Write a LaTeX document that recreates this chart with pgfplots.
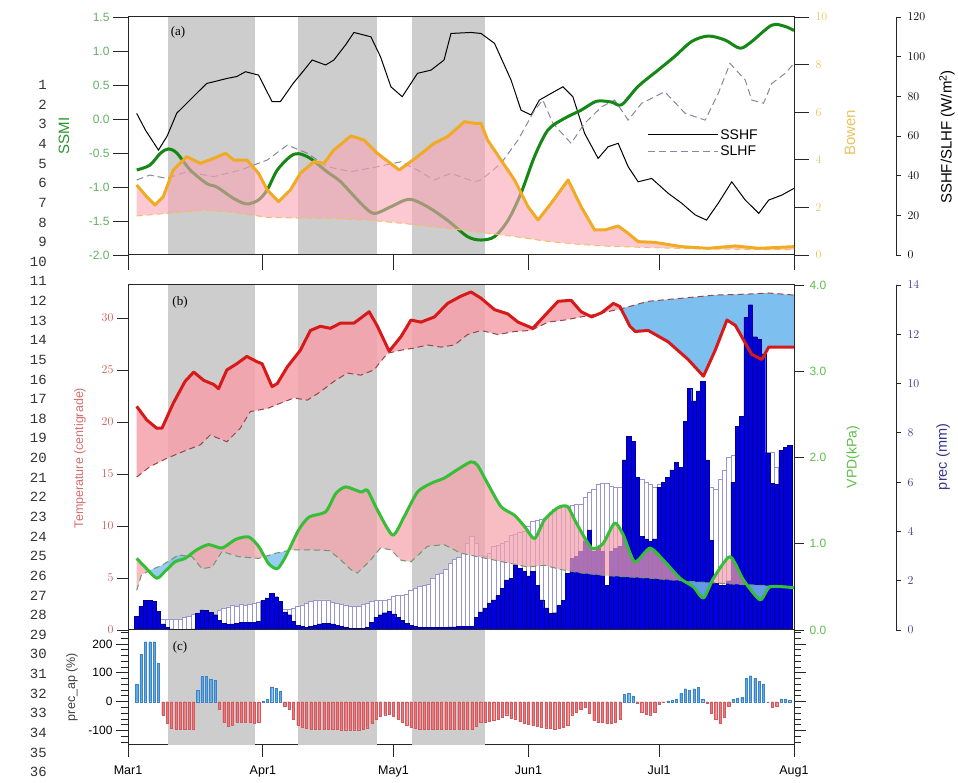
\documentclass[border=0pt]{standalone}
\usepackage{pgfplots}
\usepackage{pgfplotstable}
\pgfplotsset{compat=1.18}
\usepackage{fontspec}
\setmainfont{Liberation Sans}
\newfontfamily\seriffont{Liberation Serif}
\newfontfamily\monofont{Liberation Mono}

\definecolor{bandgray}{RGB}{205,205,205}
\definecolor{ssmiline}{RGB}{20,135,20}
\definecolor{ssmitick}{RGB}{100,175,100}
\definecolor{ssmilab}{RGB}{40,150,40}
\definecolor{bowline}{RGB}{240,170,35}
\definecolor{bowclim}{RGB}{240,190,100}
\definecolor{bowtick}{RGB}{232,196,95}
\definecolor{slhfgray}{RGB}{135,135,160}
\definecolor{pinkfill}{RGB}{250,165,180}
\definecolor{pinkT}{RGB}{245,160,170}
\definecolor{tline}{RGB}{215,25,25}
\definecolor{tclim}{RGB}{150,70,70}
\definecolor{ttick}{RGB}{205,85,85}
\definecolor{tlab}{RGB}{215,110,110}
\definecolor{vline}{RGB}{55,190,55}
\definecolor{vclim}{RGB}{110,150,110}
\definecolor{vtick}{RGB}{95,190,75}
\definecolor{ltblue}{RGB}{125,192,240}
\definecolor{barblue}{RGB}{0,0,225}
\definecolor{baredge}{RGB}{0,0,140}
\definecolor{climedge}{RGB}{150,150,210}
\definecolor{precnavy}{RGB}{55,55,145}
\definecolor{cblue}{RGB}{95,170,225}
\definecolor{cbluee}{RGB}{60,130,200}
\definecolor{cred}{RGB}{240,120,125}
\definecolor{crede}{RGB}{210,90,95}

\pgfplotstableread{
d clim act ap
2 0.40 0.55 61
3 0.40 0.97 164
4 0.40 1.19 208
5 0.40 1.19 208
6 0.40 1.15 208
7 0.40 0.75 133
8 0.42 0.25 -46
9 0.43 0.10 -75
10 0.43 0.05 -92
11 0.44 0.04 -96
12 0.45 0.04 -96
13 0.50 0.04 -96
14 0.55 0.04 -96
15 0.62 0.05 -96
16 0.45 0.68 40
17 0.45 0.82 87
18 0.45 0.80 87
19 0.45 0.72 77
20 0.45 0.62 75
21 0.80 0.40 -25
22 0.88 0.28 -70
23 0.94 0.22 -84
24 1.00 0.25 -80
25 0.97 0.28 -72
26 1.05 0.30 -72
27 1.00 0.30 -72
28 1.05 0.30 -72
29 1.08 0.30 -75
30 1.12 0.35 -72
31 1.15 1.20 3
32 1.15 1.30 8
33 1.00 1.49 52
34 0.92 1.35 46
35 0.85 1.15 37
36 0.85 0.74 -15
37 0.83 0.62 -25
38 0.88 0.36 -60
39 0.95 0.20 -80
40 1.02 0.14 -88
41 1.08 0.12 -92
42 1.15 0.15 -95
43 1.20 0.20 -95
44 1.22 0.25 -95
45 1.22 0.28 -95
46 1.22 0.28 -95
47 1.12 0.25 -95
48 1.08 0.20 -95
49 1.05 0.14 -97
50 1.02 0.10 -97
51 0.95 0.07 -97
52 0.95 0.06 -97
53 0.97 0.06 -97
54 1.05 0.07 -95
55 1.08 0.12 -90
56 1.15 0.30 -75
57 1.20 0.50 -60
58 1.22 0.62 -50
59 1.22 0.70 -45
60 1.25 0.75 -42
61 1.35 0.65 -50
62 1.40 0.52 -60
63 1.40 0.40 -70
64 1.45 0.28 -80
65 1.60 0.18 -88
66 1.70 0.14 -92
67 1.76 0.12 -95
68 1.80 0.12 -95
69 1.85 0.12 -95
70 2.10 0.12 -95
71 2.25 0.12 -95
72 2.30 0.12 -95
73 2.45 0.12 -95
74 2.70 0.13 -95
75 2.85 0.13 -95
76 2.95 0.14 -95
77 3.10 0.14 -95
78 3.50 0.15 -95
79 3.80 0.16 -95
80 3.50 0.50 -85
81 3.05 0.74 -72
82 3.00 0.90 -70
83 3.10 1.10 -68
84 3.40 1.22 -65
85 3.45 1.40 -60
86 3.50 1.70 -55
87 3.60 2.03 -45
88 3.85 2.10 -58
89 3.90 2.64 -62
90 3.95 2.50 -68
91 4.00 2.37 -75
92 4.20 2.20 -78
93 4.40 2.37 -82
94 4.45 1.80 -85
95 4.50 1.22 -88
96 4.55 0.90 -90
97 4.70 0.68 -93
98 4.90 0.70 -95
99 4.95 1.00 -92
100 5.00 1.20 -88
101 5.00 2.30 -80
102 5.05 2.90 -45
103 5.10 3.00 -35
104 5.10 3.20 -25
105 5.40 3.60 -20
106 5.60 4.06 -40
107 5.70 3.20 -65
108 5.90 3.30 -70
109 5.95 3.20 -72
110 5.95 1.80 -75
111 5.85 3.20 -75
112 5.80 3.30 -70
113 5.80 3.40 -60
114 5.80 6.90 25
115 5.80 7.85 30
116 5.90 7.65 20
117 6.00 6.20 -5
118 6.10 3.80 -35
119 6.00 3.70 -42
120 5.90 3.60 -45
121 5.80 3.70 -35
122 5.90 5.80 -10
123 6.00 6.00 -3
124 6.10 6.20 3
125 6.20 6.50 5
126 6.30 6.80 8
127 6.30 6.60 30
128 6.30 8.46 45
129 6.30 9.80 40
130 6.20 9.30 45
131 6.10 9.70 50
132 6.00 10.10 10
133 5.90 6.90 -5
134 5.80 3.65 -40
135 5.70 1.90 -60
136 6.10 1.80 -75
137 6.50 1.80 -55
138 7.00 2.00 -15
139 7.10 6.00 8
140 7.10 8.25 12
141 7.10 8.66 15
142 7.10 12.70 81
143 7.10 13.20 90
144 7.10 11.90 80
145 7.10 11.80 70
146 7.10 11.20 62
147 7.20 7.17 0
148 7.20 5.95 -20
149 6.60 5.90 -15
150 6.30 7.30 10
151 6.50 7.40 10
152 6.80 7.50 5
}\bars

\newcommand{\bands}[2]{%
\addplot[fill=bandgray, draw=none, forget plot] coordinates {(9.2,#1) (29.1,#1) (29.1,#2) (9.2,#2)};
\addplot[fill=bandgray, draw=none, forget plot] coordinates {(39.1,#1) (57.2,#1) (57.2,#2) (39.1,#2)};
\addplot[fill=bandgray, draw=none, forget plot] coordinates {(65.2,#1) (82.0,#1) (82.0,#2) (65.2,#2)};
}

\begin{document}
\begin{tikzpicture}
\useasboundingbox (0pt,0pt) rectangle (958pt,783pt);
\pgfplotsset{
 every axis/.append style={scale only axis, width=666pt, xmin=0, xmax=153,
   axis line style={black!85, line width=1pt},
   tick style={black!85, line width=0.9pt},
   tick label style={font=\fontsize{12}{12}\selectfont},
   tick align=outside},
}

% ================= Panel (a) =================
\begin{axis}[at={(128pt,528pt)}, anchor=south west, height=238pt, ymin=0, ymax=120, hide axis]
\bands{0}{120}
\addplot[black, line width=1pt, forget plot] coordinates {(2,71.4) (4,63) (7,52.9) (9,60) (11.2,71.5) (13.5,76.5) (16,82) (18.1,86.5) (20,87.5) (22.7,89) (25,90) (27,92.4) (30,90.7) (33.1,77.3) (35,77.3) (38,86.7) (40,92) (42.3,98.3) (45.4,95.8) (47.3,98.3) (50,106) (51.9,112.2) (55.8,110) (58,100) (60.4,84.8) (63,79.8) (66.5,91.6) (69.6,93.2) (72.6,98.3) (74.2,111.7) (78.8,112.2) (81.1,111.7) (84.2,106.7) (88,88.2) (90.3,73) (92.6,70.6) (94.5,78.1) (96.5,80.6) (99.9,84.8) (102.2,79.8) (104.9,61.3) (108,48.7) (110.3,54.6) (112.6,56.3) (114.9,44.5) (117.2,36.9) (120.3,38.6) (124.1,31.1) (127.2,26.1) (130.3,20.2) (132.9,17.6) (135.6,26.1) (138.7,36.9) (141.8,27.7) (144.9,21) (147.2,27.7) (150.2,30.2) (153,33.6)};
\addplot[slhfgray, line width=1pt, dash pattern=on 7pt off 4pt, forget plot] coordinates {(2,37.8) (5,40.3) (8.9,38.6) (13.5,42) (19.7,39.5) (25.8,42.8) (32,47.9) (36.6,55.4) (41.2,51.3) (45.8,44.5) (51.2,42) (57.3,44.5) (62.7,47) (66.5,42.8) (70.3,37.8) (74.2,41.2) (79.6,36.9) (81.1,37.8) (85.7,46.2) (89.6,58) (93.4,73) (95.3,78.1) (97.6,66.4) (101.8,56.3) (104.9,66.4) (108.8,74.7) (111.8,78.1) (114.9,68) (118,76.5) (123.3,82.3) (128,71.4) (132.6,68) (135.6,81.5) (138.3,96.6) (141.8,88.2) (143.3,78.1) (146,76.5) (147.9,86.5) (151,91.6) (153,96.6)};
\end{axis}

\begin{axis}[at={(128pt,528pt)}, anchor=south west, height=238pt, ymin=-2, ymax=1.5,
  major tick length=15pt, ytick pos=left, xtick pos=lower,
  xtick={0,31,61,92,122,153}, xticklabels={},
  ytick={-2,-1.5,-1,-0.5,0,0.5,1,1.5}, yticklabels={-2.0,-1.5,-1.0,-0.5,0.0,0.5,1.0,1.5},
  yticklabel style={text=ssmitick},
  legend style={at={(axis description cs:0.775,0.47)}, anchor=west, draw=none, fill=none,
     font=\fontsize{14}{14}\selectfont, row sep=1pt, cells={anchor=west}},
  legend image code/.code={\draw[#1] (0pt,0pt) -- (70pt,0pt);}]
\addplot[ssmiline, line width=3pt, smooth, line join=round, forget plot] coordinates {(2,-0.75) (5,-0.68) (7.5,-0.5) (9.3,-0.44) (11.2,-0.5) (14.3,-0.75) (18.1,-0.95) (20.4,-1.0) (24.3,-1.17) (27.3,-1.25) (30,-1.19) (32,-1.04) (34.3,-0.75) (37.3,-0.55) (39.2,-0.51) (41.9,-0.58) (45.8,-0.78) (48.8,-0.92) (53.5,-1.24) (56.5,-1.39) (60.4,-1.29) (64.6,-1.18) (68.8,-1.29) (73.4,-1.49) (78,-1.73) (81.1,-1.78) (84.2,-1.73) (87.3,-1.49) (90.3,-1.09) (93.4,-0.55) (96.5,-0.16) (100.3,0.01) (104.1,0.13) (107.6,0.26) (111,0.25) (113.4,0.21) (117.2,0.48) (121.8,0.72) (125.6,0.92) (129.5,1.14) (133.3,1.22) (137.2,1.16) (140.6,1.04) (143.3,1.14) (147.9,1.38) (151,1.36) (153,1.3)};
\addlegendimage{black, line width=1pt}
\addlegendentry{SSHF}
\addlegendimage{slhfgray, line width=1pt, dash pattern=on 7pt off 4pt}
\addlegendentry{SLHF}
\end{axis}

\begin{axis}[at={(128pt,528pt)}, anchor=south west, height=238pt, ymin=0, ymax=10,
  major tick length=15pt, ytick pos=right, xtick=\empty,
  ytick={0,2,4,6,8,10}, yticklabel style={text=bowtick, xshift=3pt}]
% pink area between Bowen ratio and its climatology
\addplot[fill=pinkfill, draw=none, opacity=0.6] coordinates {(2,2.94) (4.3,2.45) (6.2,2.1) (8.1,2.45) (10.4,3.57) (13.5,4.13) (16.6,3.85) (19.7,4.06) (22.4,4.27) (24.3,3.99) (27.3,3.99) (30,3.43) (32,2.73) (34.6,2.24) (37.3,2.73) (39.6,3.43) (42.7,3.92) (45,3.85) (47.3,4.41) (51.2,5.0) (54.2,4.83) (57.3,4.27) (62.3,3.57) (66.5,4.13) (70.3,4.69) (73.4,4.97) (77.3,5.6) (79.6,5.53) (81.1,5.53) (82.6,4.83) (85.7,3.99) (88.8,3.15) (91.9,2.03) (94.2,1.47) (97.2,2.17) (101.1,3.15) (104.1,2.03) (107.2,1.05) (109.5,1.05) (112.6,1.22) (114.9,0.91) (117.2,0.56) (121,0.53) (127.2,0.35) (133.3,0.28) (139.5,0.38) (144.9,0.28) (153,0.35)
 (153,0.22) (140,0.24) (130,0.26) (120,0.31) (111,0.36) (104,0.44) (96,0.58) (89,0.77) (81,0.95) (78,1.02) (70,1.19) (63,1.33) (55,1.47) (47,1.54) (40,1.55) (32,1.58) (24,1.8) (18,1.89) (9,1.75) (2,1.64)};
\addplot[bowclim, line width=1pt, dash pattern=on 6pt off 4pt] coordinates {(2,1.64) (9,1.75) (18,1.89) (24,1.8) (32,1.58) (40,1.55) (47,1.54) (55,1.47) (63,1.33) (70,1.19) (78,1.02) (81,0.95) (89,0.77) (96,0.58) (104,0.44) (111,0.36) (120,0.31) (130,0.26) (140,0.24) (153,0.22)};
\addplot[bowline, line width=3pt, line join=round] coordinates {(2,2.94) (4.3,2.45) (6.2,2.1) (8.1,2.45) (10.4,3.57) (13.5,4.13) (16.6,3.85) (19.7,4.06) (22.4,4.27) (24.3,3.99) (27.3,3.99) (30,3.43) (32,2.73) (34.6,2.24) (37.3,2.73) (39.6,3.43) (42.7,3.92) (45,3.85) (47.3,4.41) (51.2,5.0) (54.2,4.83) (57.3,4.27) (62.3,3.57) (66.5,4.13) (70.3,4.69) (73.4,4.97) (77.3,5.6) (79.6,5.53) (81.1,5.53) (82.6,4.83) (85.7,3.99) (88.8,3.15) (91.9,2.03) (94.2,1.47) (97.2,2.17) (101.1,3.15) (104.1,2.03) (107.2,1.05) (109.5,1.05) (112.6,1.22) (114.9,0.91) (117.2,0.56) (121,0.53) (127.2,0.35) (133.3,0.28) (139.5,0.38) (144.9,0.28) (153,0.35)};
\end{axis}

\begin{axis}[at={(886pt,528pt)}, anchor=south west, width=10pt, height=238pt, xmin=0, xmax=1, ymin=0, ymax=120,
  hide x axis, axis y line*=right, y axis line style={-}, major tick length=5pt,
  ytick={0,20,40,60,80,100,120}, yticklabel style={xshift=3pt}]
\addplot[draw=none] coordinates {(0,0) (1,120)};
\end{axis}

% ================= Panel (b) =================
\begin{axis}[at={(128pt,153pt)}, anchor=south west, height=345pt, ymin=0, ymax=14, hide axis]
\bands{0}{14}
\end{axis}

\begin{axis}[at={(128pt,153pt)}, anchor=south west, height=345pt, ymin=0, ymax=33.17, hide axis]
% temperature above its climatology (pink)
\addplot[fill=pinkT, draw=none, opacity=0.85] coordinates {(2,21.5) (4.3,20.2) (6.6,19.4) (7.8,19.4) (10.4,21.8) (13.1,23.9) (15.1,24.8) (17.4,24.0) (19.7,23.6) (20.8,23.2) (22.7,25.0) (25,25.6) (27.3,26.3) (29.6,25.8) (30.8,25.6) (33.1,23.4) (34.3,23.7) (36.6,25.3) (39.6,26.9) (41.9,28.8) (44.2,29.2) (46.5,29.0) (48.8,29.5) (51.9,29.5) (53.5,30.0) (55.4,30.6) (57.3,29.2) (60,26.8) (62.7,28.2) (65,29.8) (67.3,29.6) (70.4,30.1) (73.4,31.4) (76.5,32.1) (78.8,32.5) (81.1,31.9) (84.2,30.8) (87.2,30.4) (89.6,29.6) (93,29.0) (95,29.9) (98.8,31.6) (101.8,31.7) (104.1,30.6) (106.5,30.1) (108.8,30.5) (111.5,31.4) (113,31.1) (113.25,30.89)
 (108,30.4) (104.1,30.1) (100.3,29.8) (96.5,29.6) (92.6,28.8) (88.8,28.7) (85,28.4) (81.1,28.8) (78,28.4) (75,27.4) (71.9,27.2) (68.8,27.4) (65.7,27.1) (62.7,26.9) (59.6,26.6) (56.5,25.0) (53.5,24.5) (50.4,24.7) (47.3,23.9) (44.2,22.9) (41.2,22.1) (38.1,22.3) (35,21.8) (32,21.3) (28.1,21.0) (25.8,19.4) (22.7,18.1) (18.9,18.75) (16.6,17.8) (13.5,17.3) (8.9,16.5) (5,15.7) (2,14.7)};
% temperature below its climatology (light blue)
\addplot[fill=ltblue, draw=none] coordinates {(113.25,30.89) (115.3,29.2) (116.5,28.7) (119.5,28.8) (124.1,27.7) (128.7,26.0) (132.2,24.4) (134.9,26.9) (137.6,29.8) (139.5,29.3) (141.8,27.6) (143.3,26.5) (145.6,26.0) (147.2,27.2) (153,27.2)
 (153,32.2) (147.2,32.4) (142.6,32.3) (134.9,32.2) (127.2,31.9) (119.5,31.6)};
\end{axis}

\begin{axis}[at={(128pt,153pt)}, anchor=south west, height=345pt, ymin=0, ymax=14, hide axis]
\addplot[ybar, bar width=1, bar shift=0pt, fill=white, draw=climedge, line width=0.6pt] table[x=d, y=clim] {\bars};
\addplot[ybar, bar width=1, bar shift=0pt, fill=barblue, draw=baredge, line width=0.4pt] table[x=d, y=act] {\bars};
\end{axis}

\begin{axis}[at={(128pt,153pt)}, anchor=south west, height=345pt, ymin=0, ymax=4,
  major tick length=10pt, ytick pos=right, xtick=\empty,
  ytick={0,1,2,3,4}, yticklabels={0.0,1.0,2.0,3.0,4.0}, yticklabel style={text=vtick, xshift=2pt}]
% VPD above climatology: pink; below: light blue
\addplot[fill=pinkT, draw=none, opacity=0.7] coordinates {(2,0.83) (3.9,0.73) (4.8,0.686) (3.1,0.64) (2,0.46)};
\addplot[fill=ltblue, draw=none, opacity=0.8] coordinates {(4.8,0.686) (6.6,0.6) (8.5,0.68) (10.8,0.79) (13.1,0.83) (13.8,0.856) (11.6,0.87) (7.8,0.75) (5.4,0.7)};
\addplot[fill=pinkT, draw=none, opacity=0.7] coordinates {(13.8,0.856) (15.8,0.93) (18.5,0.99) (21.6,0.95) (24.7,1.05) (27.7,1.08) (30,0.97) (31.38,0.85) (30,0.83) (25.4,0.85) (21.6,0.91) (19.3,0.73) (17,0.71) (14.7,0.85)};
\addplot[fill=ltblue, draw=none, opacity=0.8] coordinates {(31.38,0.85) (32.3,0.77) (34.3,0.71) (36.2,0.85) (36.9,0.921) (33.9,0.89)};
\addplot[fill=pinkT, draw=none, opacity=0.7] coordinates {(36.9,0.921) (39.2,1.16) (41.6,1.31) (45.4,1.37) (47.7,1.58) (50,1.66) (53.5,1.6) (55,1.62) (57.3,1.39) (60.8,1.1) (63.4,1.31) (66.5,1.6) (69.6,1.7) (72.6,1.76) (75.7,1.86) (78.8,1.95) (80.3,1.91) (82.6,1.7) (85.7,1.43) (88.8,1.33) (91.1,1.2) (93.4,1.06) (95.7,1.28) (98.8,1.42) (101,1.43) (103,1.24) (106.5,0.95) (109.1,1.0) (111.8,1.24) (113.8,1.1) (116.4,0.79) (119.9,0.95) (123,0.81) (126.8,0.6) (127.8,0.568)
 (120,0.6) (110,0.63) (104.2,0.66) (99.5,0.7) (95.7,0.75) (91.9,0.73) (88,0.77) (84.2,0.81) (80.3,0.85) (76.5,0.89) (72.6,0.99) (68.8,0.97) (65,0.79) (62.7,0.81) (60.4,0.93) (58,0.95) (55.7,0.81) (52.7,0.66) (51.2,0.7) (48.5,0.83) (46.2,0.92) (41.6,0.93) (37.7,0.93)};
\addplot[fill=ltblue, draw=none, opacity=0.8] coordinates {(127.8,0.568) (129.9,0.5) (132.2,0.37) (134,0.549) (130,0.56)};
\addplot[fill=pinkT, draw=none, opacity=0.7] coordinates {(134,0.549) (134.5,0.6) (138.3,0.85) (141.4,0.58) (142.3,0.525) (140,0.53)};
\addplot[fill=ltblue, draw=none, opacity=0.8] coordinates {(142.3,0.525) (145.2,0.35) (147.5,0.5) (153,0.49) (153,0.5)};
\addplot[vclim, line width=1pt, dash pattern=on 6pt off 4pt] coordinates {(2,0.46) (3.1,0.64) (5.4,0.7) (7.8,0.75) (11.6,0.87) (14.7,0.85) (17,0.71) (19.3,0.73) (21.6,0.91) (25.4,0.85) (30,0.83) (33.9,0.89) (37.7,0.93) (41.6,0.93) (46.2,0.92) (48.5,0.83) (51.2,0.7) (52.7,0.66) (55.7,0.81) (58,0.95) (60.4,0.93) (62.7,0.81) (65,0.79) (68.8,0.97) (72.6,0.99) (76.5,0.89) (80.3,0.85) (84.2,0.81) (88,0.77) (91.9,0.73) (95.7,0.75) (99.5,0.7) (104.2,0.66) (110,0.63) (120,0.6) (130,0.56) (140,0.53) (153,0.5)};
\addplot[vline, line width=3pt, line join=round, smooth, tension=0.4] coordinates {(2,0.83) (3.9,0.73) (6.6,0.6) (8.5,0.68) (10.8,0.79) (13.1,0.83) (15.8,0.93) (18.5,0.99) (21.6,0.95) (24.7,1.05) (27.7,1.08) (30,0.97) (32.3,0.77) (34.3,0.71) (36.2,0.85) (39.2,1.16) (41.6,1.31) (45.4,1.37) (47.7,1.58) (50,1.66) (53.5,1.6) (55,1.62) (57.3,1.39) (60.8,1.1) (63.4,1.31) (66.5,1.6) (69.6,1.7) (72.6,1.76) (75.7,1.86) (78.8,1.95) (80.3,1.91) (82.6,1.7) (85.7,1.43) (88.8,1.33) (91.1,1.2) (93.4,1.06) (95.7,1.28) (98.8,1.42) (101,1.43) (103,1.24) (106.5,0.95) (109.1,1.0) (111.8,1.24) (113.8,1.1) (116.4,0.79) (119.9,0.95) (123,0.81) (126.8,0.6) (129.9,0.5) (132.2,0.37) (134.5,0.6) (138.3,0.85) (141.4,0.58) (145.2,0.35) (147.5,0.5) (153,0.49)};
\end{axis}

\begin{axis}[at={(128pt,153pt)}, anchor=south west, height=345pt, ymin=0, ymax=33.17,
  major tick length=11pt, ytick pos=left, xtick=\empty,
  ytick={0,5,10,15,20,25,30}, yticklabel style={text=ttick}]
\addplot[tclim, line width=1pt, dash pattern=on 6pt off 4pt] coordinates {(2,14.7) (5,15.7) (8.9,16.5) (13.5,17.3) (16.6,17.8) (18.9,18.75) (22.7,18.1) (25.8,19.4) (28.1,21.0) (32,21.3) (35,21.8) (38.1,22.3) (41.2,22.1) (44.2,22.9) (47.3,23.9) (50.4,24.7) (53.5,24.5) (56.5,25.0) (59.6,26.6) (62.7,26.9) (65.7,27.1) (68.8,27.4) (71.9,27.2) (75,27.4) (78,28.4) (81.1,28.8) (85,28.4) (88.8,28.7) (92.6,28.8) (96.5,29.6) (100.3,29.8) (104.1,30.1) (108,30.4) (113.4,30.9) (119.5,31.6) (127.2,31.9) (134.9,32.2) (142.6,32.3) (147.2,32.4) (153,32.2)};
\addplot[tline, line width=3pt, line join=round] coordinates {(2,21.5) (4.3,20.2) (6.6,19.4) (7.8,19.4) (10.4,21.8) (13.1,23.9) (15.1,24.8) (17.4,24.0) (19.7,23.6) (20.8,23.2) (22.7,25.0) (25,25.6) (27.3,26.3) (29.6,25.8) (30.8,25.6) (33.1,23.4) (34.3,23.7) (36.6,25.3) (39.6,26.9) (41.9,28.8) (44.2,29.2) (46.5,29.0) (48.8,29.5) (51.9,29.5) (53.5,30.0) (55.4,30.6) (57.3,29.2) (60,26.8) (62.7,28.2) (65,29.8) (67.3,29.6) (70.4,30.1) (73.4,31.4) (76.5,32.1) (78.8,32.5) (81.1,31.9) (84.2,30.8) (87.2,30.4) (89.6,29.6) (93,29.0) (95,29.9) (98.8,31.6) (101.8,31.7) (104.1,30.6) (106.5,30.1) (108.8,30.5) (111.5,31.4) (113,31.1) (115.3,29.2) (116.5,28.7) (119.5,28.8) (124.1,27.7) (128.7,26.0) (132.2,24.4) (134.9,26.9) (137.6,29.8) (139.5,29.3) (141.8,27.6) (143.3,26.5) (145.6,26.0) (147.2,27.2) (153,27.2)};
\end{axis}

\begin{axis}[at={(886pt,153pt)}, anchor=south west, width=10pt, height=345pt, xmin=0, xmax=1, ymin=0, ymax=14,
  hide x axis, axis y line*=right, y axis line style={-}, major tick length=5pt,
  ytick={0,2,4,6,8,10,12,14}, yticklabel style={text=precnavy, xshift=3pt}]
\addplot[draw=none] coordinates {(0,0) (1,14)};
\end{axis}

% ================= Panel (c) =================
\begin{axis}[at={(128pt,38pt)}, anchor=south west, height=115pt, ymin=-150, ymax=248.5,
  major tick length=12pt, minor tick length=7pt,
  ytick={-100,0,100,200}, yticklabels={-100,0,100,200},
  minor ytick={-140,-120,-80,-60,-40,-20,20,40,60,80,120,140,160,180,220,240},
  ytick pos=both, yticklabel pos=left, xtick pos=lower,
  xtick={0,31,61,92,122,153}, xticklabels={Mar1,Apr1,May1,Jun1,Jul1,Aug1},
  xticklabel style={font=\fontsize{12.5}{12.5}\selectfont, yshift=-5pt}]
\bands{-150}{248.5}
\addplot[ybar, bar width=0.5, bar shift=0pt, fill=cblue, draw=cbluee, line width=0.3pt, restrict y to domain=0:300] table[x=d, y=ap] {\bars};
\addplot[ybar, bar width=0.5, bar shift=0pt, fill=cred, draw=crede, line width=0.3pt, restrict y to domain=-200:-0.01] table[x=d, y=ap] {\bars};
\end{axis}

% ================= Texts =================
\foreach \k in {1,...,36} {
  \node[anchor=east, inner sep=0pt, text=black!80, font=\monofont\fontsize{14}{14}\selectfont] at (47pt,{698pt-(\k-1)*19.63pt}) {\k};
}
\node[rotate=90, text=ssmilab, font=\fontsize{15}{15}\selectfont] at (64pt,647pt) {SSMI};
\node[rotate=90, text=bowtick, font=\fontsize{15}{15}\selectfont] at (850pt,650pt) {Bowen};
\node[rotate=90, font=\fontsize{15}{15}\selectfont] at (947pt,646pt) {SSHF/SLHF (W/m\textsuperscript{2})};
\node[rotate=90, text=tlab, font=\fontsize{12.5}{12.5}\selectfont] at (80pt,325pt) {Temperature (centigrade)};
\node[rotate=90, text=vtick, font=\fontsize{14}{14}\selectfont] at (853pt,326pt) {VPD(kPa)};
\node[rotate=90, text=precnavy, font=\fontsize{14.5}{14.5}\selectfont] at (943pt,326pt) {prec (mm)};
\node[rotate=90, text=black!75, font=\fontsize{12.5}{12.5}\selectfont] at (72pt,96pt) {prec\_ap (\%)};
\node[font=\seriffont\fontsize{13}{13}\selectfont] at (178pt,751pt) {(a)};
\node[font=\seriffont\fontsize{13}{13}\selectfont] at (180pt,481pt) {(b)};
\node[font=\seriffont\fontsize{13}{13}\selectfont] at (180pt,136pt) {(c)};
\end{tikzpicture}
\end{document}
